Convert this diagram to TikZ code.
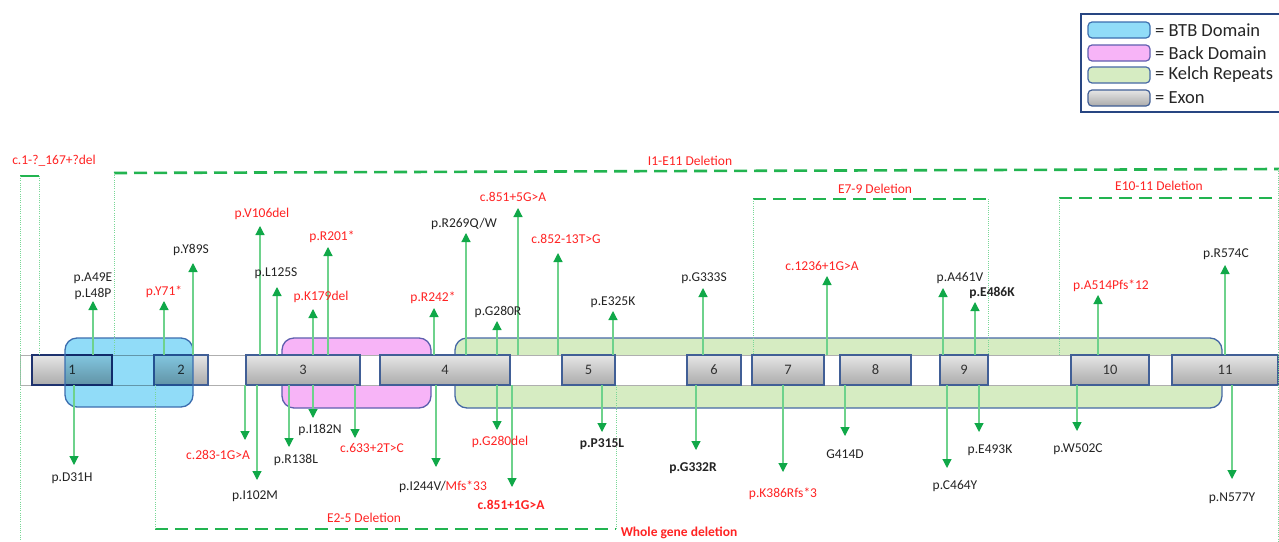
\documentclass[tikz,border=0pt]{standalone}
\usepackage{fontspec}
\setmainfont{Carlito}
\usetikzlibrary{arrows.meta}
\pgfdeclarelayer{lbl}
\pgfsetlayers{main,lbl}
\definecolor{dashgreen}{RGB}{34,180,80}
\definecolor{linegreen}{RGB}{110,210,140}
\definecolor{headgreen}{RGB}{16,168,72}
\definecolor{dotgreen}{RGB}{120,215,150}
\definecolor{redtxt}{RGB}{255,35,35}
\definecolor{blacktxt}{RGB}{35,35,35}
\definecolor{btbfill}{RGB}{145,220,248}
\definecolor{btbdraw}{RGB}{60,110,175}
\definecolor{backfill}{RGB}{247,180,247}
\definecolor{backdraw}{RGB}{95,95,175}
\definecolor{kelchfill}{RGB}{214,236,194}
\definecolor{kelchdraw}{RGB}{70,105,165}
\definecolor{exondraw}{RGB}{65,95,150}
\definecolor{exonnavy}{RGB}{30,50,110}
\definecolor{stripdraw}{RGB}{175,175,175}
\definecolor{legdraw}{RGB}{40,70,130}
\newcommand\mutup[7]{%
  \coordinate (#1-b) at (#2,355);
  \coordinate (#1-t) at (#2,#3);
  \draw[mutarrow] (#1-b) -- (#1-t);
  \begin{pgfonlayer}{lbl}\node[#6] (#1) at (#4,#5) {#7};\end{pgfonlayer}}
\newcommand\mutdown[7]{%
  \coordinate (#1-b) at (#2,385);
  \coordinate (#1-t) at (#2,#3);
  \draw[mutarrow] (#1-b) -- (#1-t);
  \begin{pgfonlayer}{lbl}\node[#6] (#1) at (#4,#5) {#7};\end{pgfonlayer}}
\begin{document}
\begin{tikzpicture}[x=1pt,y=-1pt,
  lab/.style={inner sep=0pt, font=\fontsize{13.5}{16}\selectfont, text=blacktxt, text height=8.7pt, text depth=0pt},
  redlab/.style={lab, text=redtxt},
  boldlab/.style={lab, font=\fontsize{13.5}{16}\selectfont\bfseries},
  boldred/.style={boldlab, text=redtxt},
  mutarrow/.style={draw=linegreen, line width=1.2pt, -{Triangle[width=9pt,length=9pt,color=headgreen,fill=headgreen]}},
  exon/.style={draw=exondraw, line width=1.3pt, top color=black!10, bottom color=black!33, minimum height=30pt, inner sep=0pt, font=\fontsize{14.5}{16}\selectfont, text=black!80},
  dom/.style={rounded corners=12pt, line width=1.3pt, inner sep=0pt},
  delline/.style={draw=dashgreen, line width=2.6pt, dash pattern=on 13pt off 7pt},
  dotline/.style={draw=dotgreen, line width=0.8pt, dash pattern=on 1pt off 1.2pt},
  sw/.style={rounded corners=4pt, line width=1.2pt, minimum width=62pt, minimum height=16pt, inner sep=0pt},
  legtxt/.style={anchor=west, inner sep=0pt, font=\fontsize{18.5}{20}\selectfont, text=black!85}]
\useasboundingbox (0,0) rectangle (1279,541);
\clip (0,0) rectangle (1279,541);
\fill[white] (0,0) rectangle (1279,541);

% legend
\node[draw=legdraw, line width=1.6pt, minimum width=215pt, minimum height=98pt, anchor=north west, inner sep=0pt] (legend) at (1080,13) {};
\node[sw, fill=btbfill, draw=btbdraw] (swbtb) at (1119,30) {};
\node[sw, fill=backfill, draw=backdraw] (swback) at (1119,53) {};
\node[sw, fill=kelchfill, draw=kelchdraw] (swkelch) at (1119,75) {};
\node[sw, draw=exondraw, top color=black!10, bottom color=black!33] (swexon) at (1119,98) {};
\node[legtxt] (ltbtb) at (1155,30) {= BTB Domain};
\node[legtxt] (ltback) at (1155,53) {= Back Domain};
\node[legtxt] (ltkelch) at (1155,75) {= Kelch Repeats};
\node[legtxt] (ltexon) at (1155,98) {= Exon};

% domains behind
\node[dom, fill=backfill, draw=backdraw, minimum width=149pt, minimum height=70pt] (back) at (356.5,373) {};
\node[dom, fill=kelchfill, draw=kelchdraw, minimum width=767pt, minimum height=70pt] (kelch) at (838.5,373) {};

% gene strip
\node[draw=stripdraw, fill=white, line width=1pt, minimum width=1259pt, minimum height=30pt, inner sep=0pt] (strip) at (649.5,370) {};

% exons
\node[exon, draw=exonnavy, minimum width=80pt] (e1) at (72,370) {1};
\node[exon, minimum width=54pt] (e2) at (181,370) {2};
\node[exon, minimum width=114pt] (e3) at (303,370) {3};
\node[exon, minimum width=130pt] (e4) at (445,370) {4};
\node[exon, minimum width=53pt] (e5) at (588.5,370) {5};
\node[exon, minimum width=54pt] (e6) at (714,370) {6};
\node[exon, minimum width=72pt] (e7) at (788,370) {7};
\node[exon, minimum width=71pt] (e8) at (875.5,370) {8};
\node[exon, minimum width=48pt] (e9) at (964,370) {9};
\node[exon, minimum width=78pt] (e10) at (1110,370) {10};
\node[exon, minimum width=106pt] (e11) at (1225,370) {11};

% BTB domain on top
\begin{scope}[blend mode=multiply]
\node[dom, fill=btbfill, minimum width=128pt, minimum height=69pt] (btbf) at (129,372.5) {};
\end{scope}
\node[dom, draw=btbdraw, minimum width=128pt, minimum height=69pt] (btb) at (129,372.5) {};

% deletion brackets
\coordinate (c1L) at (20,176); \coordinate (c1R) at (39,176);
\coordinate (c1Rd) at (39,355); \coordinate (wgL) at (20,541);
\draw[draw=dashgreen, line width=2.6pt] (c1L) -- (c1R);
\draw[dotline] (c1R) -- (c1Rd);
\draw[dotline] (c1L) -- (wgL);
\node[redlab] (c1lab) at (54,160) {c.1-?\_167+?del};

\coordinate (ieL) at (114,173); \coordinate (ieR) at (1279,169);
\coordinate (ieLd) at (114,355);
\coordinate (wgRt) at (1278,169); \coordinate (wgR) at (1278,541);
\draw[delline] (ieL) -- (ieR);
\draw[dotline] (ieL) -- (ieLd);
\draw[dotline] (wgRt) -- (wgR);
\node[redlab] (ielab) at (690,161) {I1-E11 Deletion};

\coordinate (e79L) at (753,199); \coordinate (e79R) at (988,199);
\coordinate (e79Ld) at (753,355); \coordinate (e79Rd) at (988,355);
\draw[delline] (e79L) -- (e79R);
\draw[dotline] (e79L) -- (e79Ld);
\draw[dotline] (e79R) -- (e79Rd);
\node[redlab] (e79lab) at (875,189) {E7-9 Deletion};

\coordinate (e1011L) at (1059,198); \coordinate (e1011R) at (1279,198);
\coordinate (e1011Ld) at (1059,355);
\draw[delline] (e1011L) -- (e1011R);
\draw[dotline] (e1011L) -- (e1011Ld);
\node[redlab] (e1011lab) at (1159,186) {E10-11 Deletion};

\coordinate (e25L) at (155,529); \coordinate (e25R) at (616,529);
\coordinate (e25Lu) at (155,385); \coordinate (e25Ru) at (616,385);
\draw[delline] (e25L) -- (e25R);
\draw[dotline] (e25L) -- (e25Lu);
\draw[dotline] (e25R) -- (e25Ru);
\node[redlab] (e25lab) at (364,518) {E2-5 Deletion};
\node[boldred] (wglab) at (679,532) {Whole gene deletion};

% mutations above
\coordinate (ua49-b) at (93,355); \coordinate (ua49-t) at (93,301);
\draw[mutarrow] (ua49-b) -- (ua49-t);
\begin{pgfonlayer}{lbl}
\node[lab, align=center, text height=, text depth=] (ua49) at (93,286) {p.A49E\\p.L48P};
\end{pgfonlayer}
\mutup{uy71}{164}{301}{164}{291}{redlab}{p.Y71*}
\mutup{uy89}{193}{263}{191}{249}{lab}{p.Y89S}
\mutup{uv106}{260}{226}{262}{213}{redlab}{p.V106del}
\mutup{ul125}{277}{287}{276}{272}{lab}{p.L125S}
\mutup{uk179}{313}{309}{321}{296}{redlab}{p.K179del}
\mutup{ur201}{328}{247}{332}{236}{redlab}{p.R201*}
\mutup{ur242}{434}{308}{433}{297}{redlab}{p.R242*}
\mutup{ur269}{466}{233}{464}{223}{lab}{p.R269Q/W}
\mutup{ug280}{497}{321}{498}{311}{lab}{p.G280R}
\mutup{uc8515}{518}{208}{513}{197}{redlab}{c.851+5G>A}
\mutup{uc85213}{558}{253}{566}{239}{redlab}{c.852-13T>G}
\mutup{ue325}{613}{311}{613}{301}{lab}{p.E325K}
\mutup{ug333}{703}{288}{704}{277}{lab}{p.G333S}
\mutup{uc1236}{827}{276}{822}{266}{redlab}{c.1236+1G>A}
\mutup{ua461}{943}{288}{960}{277}{lab}{p.A461V}
\mutup{ue486}{975}{302}{992}{292}{boldlab}{p.E486K}
\mutup{ua514}{1098}{295}{1111}{285}{redlab}{p.A514Pfs*12}
\mutup{ur574}{1225}{265}{1226}{253}{lab}{p.R574C}

% mutations below
\mutdown{dd31}{74}{465}{72}{477}{lab}{p.D31H}
\mutdown{dc283}{245}{440}{218}{455}{redlab}{c.283-1G>A}
\mutdown{di102}{257}{480}{255}{495}{lab}{p.I102M}
\mutdown{dr138}{289}{447}{296}{459}{lab}{p.R138L}
\mutdown{di182}{313}{418}{320}{429}{lab}{p.I182N}
\mutdown{dc633}{355}{438}{372}{448}{redlab}{c.633+2T>C}
\mutdown{di244}{436}{467}{443}{486}{lab}{p.I244V/\textcolor{redtxt}{Mfs*33}}
\mutdown{dg280}{497}{430}{500}{441}{redlab}{p.G280del}
\mutdown{dc8511}{512}{487}{511}{505}{boldred}{c.851+1G>A}
\mutdown{dp315}{602}{432}{602}{443}{boldlab}{p.P315L}
\mutdown{dg332}{696}{450}{693}{467}{boldlab}{p.G332R}
\mutdown{dk386}{783}{472}{783}{493}{redlab}{p.K386Rfs*3}
\mutdown{dg414}{845}{436}{845}{454}{lab}{G414D}
\mutdown{dc464}{947}{468}{955}{485}{lab}{p.C464Y}
\mutdown{de493}{979}{432}{990}{449}{lab}{p.E493K}
\mutdown{dw502}{1077}{431}{1078}{448}{lab}{p.W502C}
\mutdown{dn577}{1232}{479}{1232}{497}{lab}{p.N577Y}
\end{tikzpicture}
\end{document}
